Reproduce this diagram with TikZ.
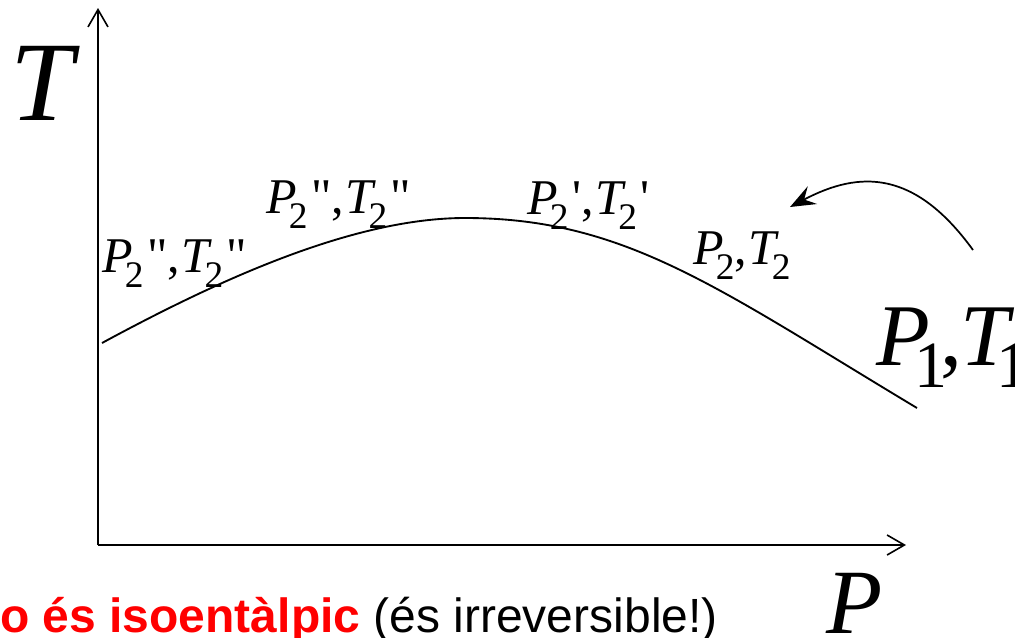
\documentclass[tikz,border=0pt]{standalone}
\usepackage{fontspec}
\usepackage{graphicx}
\setsansfont{Liberation Sans}
\newfontfamily\tms{Liberation Serif}
\usetikzlibrary{arrows.meta}
\definecolor{redtxt}{RGB}{255,0,0}
\newcommand\subsc[2][0.3em]{\raisebox{-#1}{\scalebox{0.75}{\upshape #2}}}
% #1 subscript, #2 mark, #3 kern after subscript
\newcommand\PTlab[3]{\textit{P}\kern-0.16em\subsc{#1}\kern#3{\upshape#2,}\kern0.03em\textit{T}\kern-0.15em\subsc{#1}\kern#3{\upshape#2}}
\newcommand\PTbig{\textit{P}\kern-0.18em\subsc[0.26em]{1}\kern-0.08em{\upshape,}\kern-0.02em\textit{T}\kern-0.2em\subsc[0.26em]{1}}
\tikzset{
  axis/.style={line width=1.4pt,-{Straight Barb[length=13pt,width=15pt,line width=1.2pt]}},
  curve/.style={line width=1.4pt},
  bend arrow/.style={line width=1.3pt,-{Stealth[length=19pt,width=15pt,inset=7pt]}},
  lab/.style={font=\tms\fontsize{37.5}{40}\selectfont,inner sep=0,anchor=base west},
  big/.style={font=\tms\itshape,inner sep=0,anchor=base west}
}
\begin{document}
\begin{tikzpicture}[x=0.75pt,y=-0.75pt]
\useasboundingbox (0,0) rectangle (1015,637);
\clip (0,0) rectangle (1015,637);
% axes
\coordinate (O) at (98,545);
\coordinate (Ytip) at (98,8);
\coordinate (Xtip) at (906,545);
\draw[axis] (O) -- (Ytip);
\draw[axis] (O) -- (Xtip);
% curve
\coordinate (C0) at (102,343);
\coordinate (Cpk) at (465,218);
\coordinate (C1) at (917,408);
\draw[curve] (C0) .. controls (222,278) and (355,218) .. (Cpk)
                  .. controls (625,218) and (717,288) .. (C1);
% bent arrow
\coordinate (Astart) at (973,250);
\coordinate (Aend) at (790,207);
\draw[bend arrow] (Astart) .. controls (915,170) and (860,170) .. (Aend);
% axis labels
\node[big,font=\tms\itshape\fontsize{85}{90}\selectfont] (Tlab) at (10,120) {T};
\node[big,font=\tms\itshape\fontsize{69}{72}\selectfont] (Plab) at (826,633) {P};
% state labels
\node[lab] (L1) at (102,272) {\PTlab{2}{"}{0.07em}};
\node[lab] (L2) at (266,213) {\PTlab{2}{"}{0.07em}};
\node[lab] (L3) at (527,214) {\PTlab{2}{'}{0.07em}};
\node[lab] (L4) at (693,264) {\PTlab{2}{}{0em}};
\node[lab,font=\tms\fontsize{66}{70}\selectfont] (L5) at (876,365) {\PTbig};
% bottom text
\node[inner sep=0,anchor=base west,font=\sffamily\fontsize{36}{38}\selectfont] (note) at (0,632)
  {\textcolor{redtxt}{\bfseries o és isoentàlpic} (és irreversible!)};
\end{tikzpicture}
\end{document}
